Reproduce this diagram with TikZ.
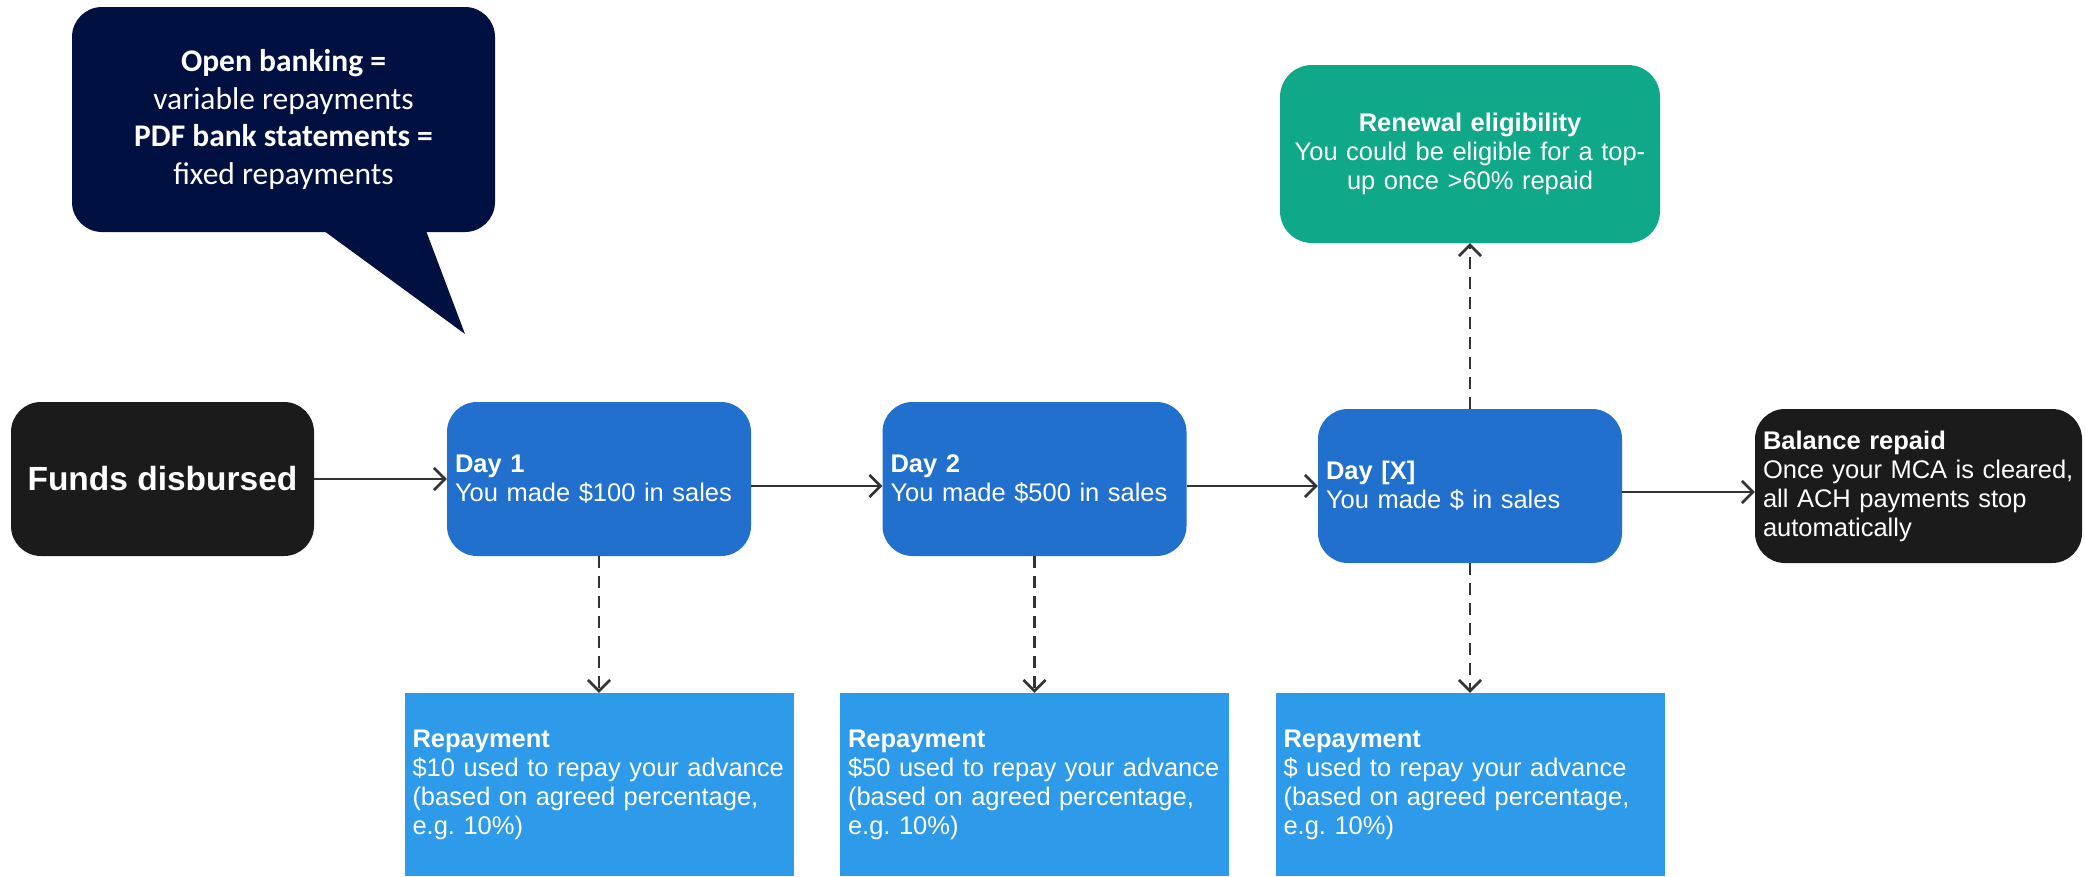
\documentclass[tikz,border=0pt]{standalone}
\usepackage{fontspec}
\setmainfont{Liberation Sans}
\newfontfamily\calib{Carlito}
\usetikzlibrary{arrows.meta}
\definecolor{navy}{HTML}{001040}
\definecolor{blk}{HTML}{1B1B1B}
\definecolor{dayblue}{HTML}{2270CE}
\definecolor{repblue}{HTML}{2E9AEA}
\definecolor{renewgreen}{HTML}{0FA889}
\definecolor{arrowgray}{HTML}{333333}
\begin{document}
\begin{tikzpicture}[x=1pt,y=-1pt,
  txt/.style={text=white, font=\fontsize{25.5}{29}\selectfont},
  daybox/.style={txt, fill=dayblue, rounded corners=30pt, inner xsep=8pt, inner ysep=0pt,
    text width=288pt, minimum height=154pt, align=left},
  darkbox/.style={txt, fill=blk, rounded corners=30pt, inner xsep=8pt, inner ysep=0pt,
    minimum height=154pt},
  repbox/.style={txt, fill=repblue, inner xsep=8pt, inner ysep=0pt,
    text width=373pt, minimum height=183pt, align=left},
  arr/.style={draw=arrowgray, line width=2.6pt, -{Straight Barb[length=11pt,width=22pt]}},
  darr/.style={arr, dash pattern=on 12pt off 8pt}]
\useasboundingbox (0,0) rectangle (2085,876);

% speech bubble
\fill[navy] (320,228) -- (465,334) -- (425,228) -- cycle;
\node[fill=navy, rounded corners=30pt, minimum width=423pt, minimum height=225pt,
  inner sep=0pt, text=white, align=center,
  font=\calib\fontsize{31.5}{37.5}\selectfont] (bubble) at (283.5,119.5)
  {\textbf{Open banking =}\\variable repayments\\\textbf{PDF bank statements =}\\fixed repayments};

% main row
\node[darkbox, minimum width=303pt, align=center,
  font=\bfseries\fontsize{33.5}{38}\selectfont] (funds) at (162.5,479) {Funds disbursed};
\node[daybox] (d1) at (599,479) {\textbf{Day 1}\\You made \$100 in sales};
\node[daybox] (d2) at (1034.5,479) {\textbf{Day 2}\\You made \$500 in sales};
\node[daybox] (dx) at (1470,486) {\textbf{Day [X]}\\You made \$ in sales};
\node[darkbox, text width=311pt, align=left] (bal) at (1918.5,486)
  {\textbf{Balance repaid}\\Once your MCA is cleared,\\all ACH payments stop\\automatically};

% renewal
\node[txt, fill=renewgreen, rounded corners=32pt, inner xsep=8pt, inner ysep=0pt,
  text width=364pt, minimum height=178pt, align=center] (ren) at (1470,154)
  {\textbf{Renewal eligibility}\\You could be eligible for a top-\\up once >60\% repaid};

% repayments
\node[repbox] (rep1) at (599,784.5)
  {\textbf{Repayment}\\\mbox{\$10 used to repay your advance}\\(based on agreed percentage,\\e.g.\ 10\%)};
\node[repbox] (rep2) at (1034.5,784.5)
  {\textbf{Repayment}\\\mbox{\$50 used to repay your advance}\\(based on agreed percentage,\\e.g.\ 10\%)};
\node[repbox] (rep3) at (1470,784.5)
  {\textbf{Repayment}\\\mbox{\$ used to repay your advance}\\(based on agreed percentage,\\e.g.\ 10\%)};

% connectors
\draw[arr] (funds.east) -- (d1.west);
\draw[arr] ([yshift=-7pt]d1.east) -- ([yshift=-7pt]d2.west);
\draw[arr] ([yshift=-7pt]d2.east) -- (dx.west);
\draw[arr] ([yshift=-6pt]dx.east) -- ([yshift=-6pt]bal.west);
\draw[darr] (d1.south) -- (rep1.north);
\draw[darr] (d2.south) -- (rep2.north);
\draw[darr] (dx.south) -- (rep3.north);
\draw[darr] (dx.north) -- (ren.south);
\end{tikzpicture}
\end{document}
